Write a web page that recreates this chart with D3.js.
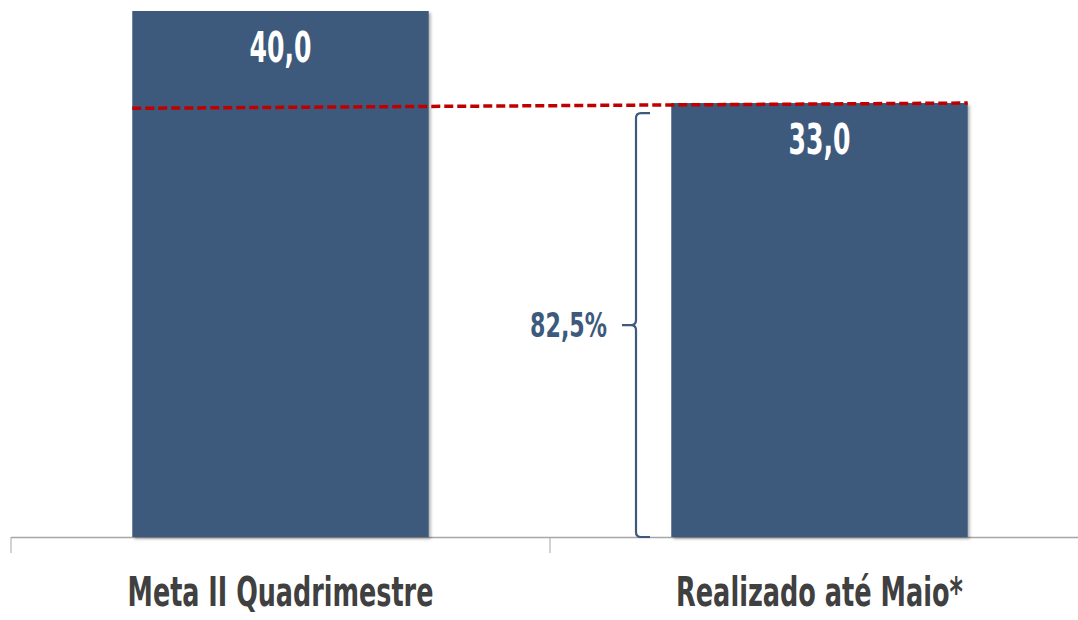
<!DOCTYPE html>
<html><head><meta charset="utf-8">
<script src="https://cdn.jsdelivr.net/npm/d3@7"></script>
<style>
html,body{margin:0;padding:0;background:#fff;}
svg{display:block;}
</style></head>
<body>
<svg id="chart" width="1078" height="620"></svg>
<script>
const categories = ["Meta II Quadrimestre", "Realizado até Maio*"];
const values = [40.0, 33.0];
const valueLabels = ["40,0", "33,0"];
const percentLabel = "82,5%";
const refLineValues = [32.6, 33.0];

(function(){
const svg = d3.select("#chart");
const W = 1078, H = 620;
const baseY = 537;
const FONT = "'Liberation Sans Narrow','DejaVu Sans Condensed','Arial Narrow',sans-serif";
const barColor = "#3d5a7c";

const x = d3.scaleBand().domain(categories).range([11, 1089]).paddingInner(0.45).paddingOuter(0.225);
const y = d3.scaleLinear().domain([0, 40]).range([baseY, 11]);

// fit a text to a target width by horizontal scaling
function fitText(sel, cx, cy, target) {
  const w = sel.node().getComputedTextLength() || target;
  sel.attr("x", 0).attr("y", 0)
     .attr("transform", `translate(${cx},${cy}) scale(${target / w},1)`);
}

const defs = svg.append("defs");
const f = defs.append("filter").attr("id","shadow").attr("x","-5%").attr("y","-5%").attr("width","115%").attr("height","115%");
f.append("feDropShadow").attr("dx",2).attr("dy",2).attr("stdDeviation",1.5).attr("flood-color","#000").attr("flood-opacity",0.3);

// axis
const axisG = svg.append("g").attr("transform", `translate(0,${baseY})`);
axisG.append("line").attr("x1", 11).attr("x2", W).attr("y1", 0.5).attr("y2", 0.5)
  .attr("stroke", "#a6a6a6").attr("stroke-width", 1.3);
const tickXs = [11, 11 + x.step()];
axisG.selectAll("line.tick").data(tickXs).enter().append("line")
  .attr("class","tick").attr("x1", d => d).attr("x2", d => d).attr("y1", 0).attr("y2", 16)
  .attr("stroke", "#a6a6a6").attr("stroke-width", 1);

// bars
svg.selectAll("rect.bar").data(values).enter().append("rect")
  .attr("class","bar")
  .attr("x", (d,i) => x(categories[i]))
  .attr("width", x.bandwidth())
  .attr("y", d => y(d))
  .attr("height", d => baseY - y(d))
  .attr("fill", barColor)
  .attr("filter","url(#shadow)");

// value labels
values.forEach((d, i) => {
  const t = svg.append("text")
    .attr("text-anchor","middle")
    .attr("font-family", FONT)
    .attr("font-weight","bold")
    .attr("font-size", 42)
    .attr("fill","#fff")
    .text(valueLabels[i]);
  fitText(t, x(categories[i]) + x.bandwidth()/2, y(d) + 51, 62);
});

// dashed reference line
const x0 = x(categories[0]);
const x1 = x(categories[1]) + x.bandwidth();
svg.append("line")
  .attr("x1", x0).attr("x2", x1)
  .attr("y1", y(refLineValues[0])).attr("y2", y(refLineValues[1]))
  .attr("stroke", "#c00000").attr("stroke-width", 3.5)
  .attr("stroke-dasharray", "9,4");

// brace
const bx = 636, bTop = y(values[1]) + 10, bBot = baseY, mid = (bTop + bBot)/2;
const braceColor = "#3d5a7c";
const r = 5;
const p = d3.path();
p.moveTo(bx + 14, bTop);
p.lineTo(bx + r, bTop);
p.quadraticCurveTo(bx, bTop, bx, bTop + r);
p.lineTo(bx, mid - r);
p.quadraticCurveTo(bx, mid, bx - r, mid);
p.lineTo(bx - 14, mid);
p.moveTo(bx - r, mid);
p.quadraticCurveTo(bx, mid, bx, mid + r);
p.lineTo(bx, bBot - r);
p.quadraticCurveTo(bx, bBot, bx + r, bBot);
p.lineTo(bx + 14, bBot);
svg.append("path").attr("d", p.toString()).attr("fill","none")
  .attr("stroke", braceColor).attr("stroke-width", 2.2);

const pt = svg.append("text")
  .attr("text-anchor","end")
  .attr("font-family", FONT)
  .attr("font-weight","bold")
  .attr("font-size", 33)
  .attr("fill", braceColor)
  .text(percentLabel);
fitText(pt, 607, mid + 12, 77);

// category labels
const catWidths = [306, 287];
categories.forEach((c, i) => {
  const t = svg.append("text")
    .attr("text-anchor","middle")
    .attr("font-family", FONT)
    .attr("font-weight","bold")
    .attr("font-size", 40)
    .attr("fill","#404040")
    .text(c);
  fitText(t, x(c) + x.bandwidth()/2, 606, catWidths[i]);
});
})();
</script>
</body></html>
